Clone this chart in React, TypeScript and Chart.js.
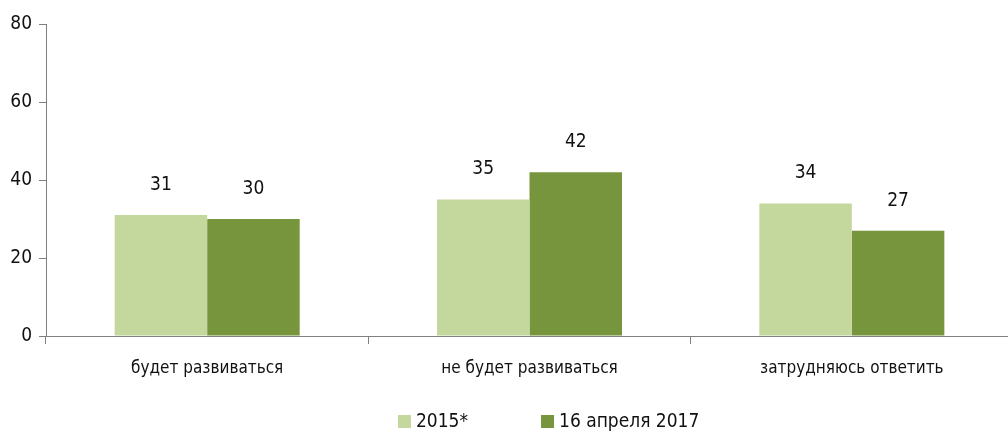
import React, { useEffect, useRef } from "react";
import { Chart, registerables } from "chart.js";

Chart.register(...registerables);

const categories = ["будет развиваться", "не будет развиваться", "затрудняюсь ответить"];
const series2015 = [31, 35, 34];
const series2017 = [30, 42, 27];
const seriesNames = ["2015*", "16 апреля 2017"];
const seriesColors = ["#c4d89d", "#77953c"];
const yTicks = [0, 20, 40, 60, 80];

const FONT = "'Liberation Sans Narrow', 'DejaVu Sans Condensed', 'Roboto Condensed', sans-serif";

const labelPlugin = {
  id: "barLabels",
  afterDatasetsDraw(chart: any) {
    const ctx = chart.ctx;
    ctx.save();
    ctx.fillStyle = "#111";
    ctx.font = `19px ${FONT}`;
    ctx.textAlign = "center";
    ctx.textBaseline = "middle";
    chart.data.datasets.forEach((ds: any, i: number) => {
      const meta = chart.getDatasetMeta(i);
      meta.data.forEach((bar: any, j: number) => {
        ctx.fillText(String(ds.data[j]), bar.x, bar.y - 30);
      });
    });
    ctx.restore();
  },
};

const legendPlugin = {
  id: "customLegend",
  afterDraw(chart: any) {
    const ctx = chart.ctx;
    ctx.save();
    ctx.font = `19px ${FONT}`;
    ctx.textBaseline = "middle";
    ctx.textAlign = "left";
    let x = 398;
    const cy = 422;
    chart.data.datasets.forEach((ds: any) => {
      ctx.fillStyle = ds.backgroundColor;
      ctx.fillRect(x, cy - 7, 13, 13);
      ctx.fillStyle = "#111";
      ctx.fillText(ds.label, x + 18, cy);
      x += 18 + ctx.measureText(ds.label).width + 73;
    });
    ctx.restore();
  },
};

export default function App() {
  const ref = useRef<HTMLCanvasElement>(null);
  useEffect(() => {
    if (!ref.current) return;
    const chart = new Chart(ref.current, {
      type: "bar",
      data: {
        labels: categories,
        datasets: [
          { label: seriesNames[0], data: series2015, backgroundColor: seriesColors[0], borderWidth: 0, inflateAmount: 0, categoryPercentage: 0.574, barPercentage: 1 },
          { label: seriesNames[1], data: series2017, backgroundColor: seriesColors[1], borderWidth: 0, inflateAmount: 0, categoryPercentage: 0.574, barPercentage: 1 },
        ],
      },
      options: {
        animation: false,
        responsive: false,
        layout: { padding: { top: 24, right: 1, left: 1, bottom: 46 } },
        plugins: {
          tooltip: { enabled: false },
          legend: { display: false },
        },
        scales: {
          x: {
            grid: { display: true, offset: true, drawOnChartArea: false, drawTicks: true, tickLength: 8, color: "#808080" },
            border: { color: "#808080", width: 1 },
            ticks: { color: "#111", font: { family: FONT, size: 17 }, padding: 14 },
            afterFit(scale: any) { scale.height = 50; },
          },
          y: {
            min: 0,
            max: 80,
            afterBuildTicks(scale: any) { scale.ticks = yTicks.map((v) => ({ value: v })); },
            grid: { display: true, drawOnChartArea: false, drawTicks: true, tickLength: 7, color: "#808080" },
            border: { color: "#808080", width: 1 },
            ticks: { color: "#111", font: { family: FONT, size: 19 }, padding: 7 },
            afterFit(scale: any) { scale.width = 45; },
          },
        },
      },
      plugins: [labelPlugin, legendPlugin],
    });
    return () => chart.destroy();
  }, []);
  return (
    <div style={{ position: "absolute", left: 0, top: 0, width: 1008, height: 432, overflow: "hidden", background: "#fff" }}>
      <canvas ref={ref} width={1014} height={432} style={{ display: "block" }} />
    </div>
  );
}
